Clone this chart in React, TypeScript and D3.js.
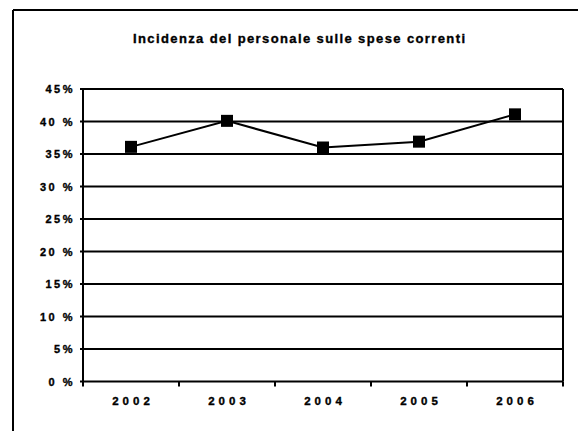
import React from "react";
import * as d3 from "d3";

const years = ["2002", "2003", "2004", "2005", "2006"];
const incidenza = [36.1, 40.1, 36.0, 36.9, 41.1];
const yTicks = [0, 5, 10, 15, 20, 25, 30, 35, 40, 45];
const yTickLabels = ["0 %", "5%", "10 %", "15%", "20 %", "25%", "30 %", "35%", "40 %", "45%"];
const title = "Incidenza del personale sulle spese correnti";

export default function App() {
    const width = 578;
    const height = 431;
    const margin = { left: 83, right: 15, top: 89, bottom: 49.5 };
    const innerBottom = height - margin.bottom;

    const xScale = d3.scaleBand().domain(years).range([margin.left, width - margin.right]);
    const yScale = d3.scaleLinear().domain([0, 45]).range([innerBottom, margin.top]);

    const myLine = d3
        .line<number>()
        .x((d, i) => xScale(years[i])! + xScale.bandwidth() / 2)
        .y((d) => yScale(d));

    const font = "'Liberation Sans', Arial, sans-serif";
    const tickXs = [...years.map((y) => xScale(y)!), xScale.range()[1]];
    // scanned text looks heavier, so a thin stroke thickens the glyphs
    const heavy = { stroke: "#000", strokeWidth: 0.35 };

    return (
        <svg
            width={width}
            height={height}
            style={{ position: "absolute", left: 0, top: 0, background: "#fff" }}
        >
            {/* outer frame */}
            <line x1={13} y1={10} x2={width} y2={10} stroke="#000" strokeWidth={2} />
            <line x1={13} y1={10} x2={13} y2={height} stroke="#000" strokeWidth={2} />

            <text
                x={133}
                y={42.5}
                fontFamily={font}
                fontWeight="bold"
                fontSize={13}
                textLength={332}
                lengthAdjust="spacing"
                {...heavy}
            >
                {title}
            </text>

            {/* gridlines */}
            {yTicks.map((t) => (
                <line
                    key={t}
                    x1={margin.left - 3}
                    x2={width - margin.right}
                    y1={yScale(t)}
                    y2={yScale(t)}
                    stroke="#000"
                    strokeWidth={2}
                />
            ))}
            {yTicks.map((t, i) => (
                <text
                    key={"l" + t}
                    x={75}
                    y={yScale(t) + 4}
                    textAnchor="end"
                    fontFamily={font}
                    fontWeight="bold"
                    fontSize={11}
                    letterSpacing={2.5}
                    {...heavy}
                >
                    {yTickLabels[i]}
                </text>
            ))}

            {/* axes */}
            <line x1={margin.left} x2={margin.left} y1={margin.top} y2={innerBottom} stroke="#000" strokeWidth={2} />
            <line
                x1={width - margin.right}
                x2={width - margin.right}
                y1={margin.top}
                y2={innerBottom}
                stroke="#000"
                strokeWidth={2}
            />
            {tickXs.map((x, i) => (
                <line key={"t" + i} x1={x} x2={x} y1={innerBottom} y2={innerBottom + 5} stroke="#000" strokeWidth={2} />
            ))}
            {years.map((y) => (
                <text
                    key={y}
                    x={xScale(y)! + xScale.bandwidth() / 2 + 2}
                    y={404.5}
                    textAnchor="middle"
                    fontFamily={font}
                    fontWeight="bold"
                    fontSize={11.5}
                    letterSpacing={4}
                    {...heavy}
                >
                    {y}
                </text>
            ))}

            <path d={myLine(incidenza) ?? ""} fill="none" stroke="#000" strokeWidth={2} />
            {incidenza.map((v, i) => (
                <rect
                    key={i}
                    x={xScale(years[i])! + xScale.bandwidth() / 2 - 6}
                    y={yScale(v) - 6}
                    width={12}
                    height={12}
                    fill="#000"
                />
            ))}
        </svg>
    );
}
